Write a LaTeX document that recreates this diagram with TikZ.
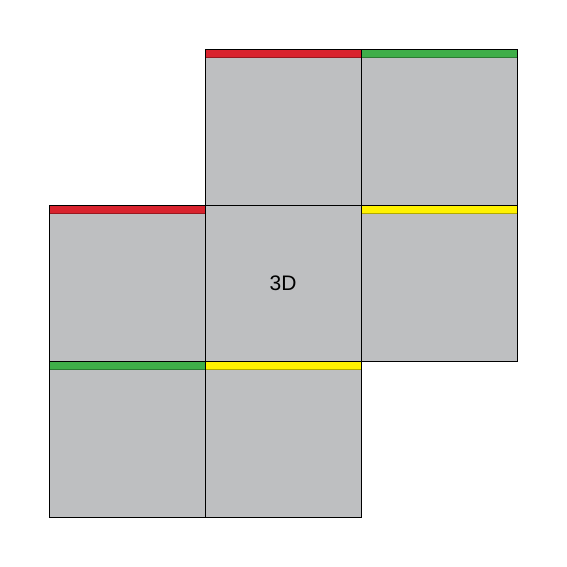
\documentclass[tikz,border=0pt]{standalone}
\usepackage{fontspec}
\setmainfont{Liberation Sans}
\definecolor{facegray}{HTML}{BEBFC1}
\definecolor{sred}{HTML}{D9232E}
\definecolor{sgreen}{HTML}{3FAE49}
\definecolor{syellow}{HTML}{FFF200}
\tikzset{
  facepath/.style={draw=black,line width=0.9pt},
}
\newcommand{\facebox}[3]{% x, y, strip colour
  \fill[facegray] (#1,#2) rectangle ++(156,156);
  \ifx\relax#3\relax\else
    \fill[#3] (#1,#2) rectangle ++(156,9);
    \draw[#3!70!black,line width=1pt] (#1,#2+8.5) -- ++(156,0);
  \fi
  \draw[facepath] (#1,#2) rectangle ++(156,156);
}
\begin{document}
\begin{tikzpicture}[x=1pt,y=-1pt]
\useasboundingbox (0,0) rectangle (567,567);
\fill[white] (0,0) rectangle (567,567);
\facebox{205}{49}{sred}
\facebox{361}{49}{sgreen}
\facebox{49}{205}{sred}
\facebox{205}{205}{}
\facebox{361}{205}{syellow}
\facebox{49}{361}{sgreen}
\facebox{205}{361}{syellow}
\node[font=\fontsize{21}{24}\selectfont] (label) at (283,283) {3D};
\end{tikzpicture}
\end{document}
